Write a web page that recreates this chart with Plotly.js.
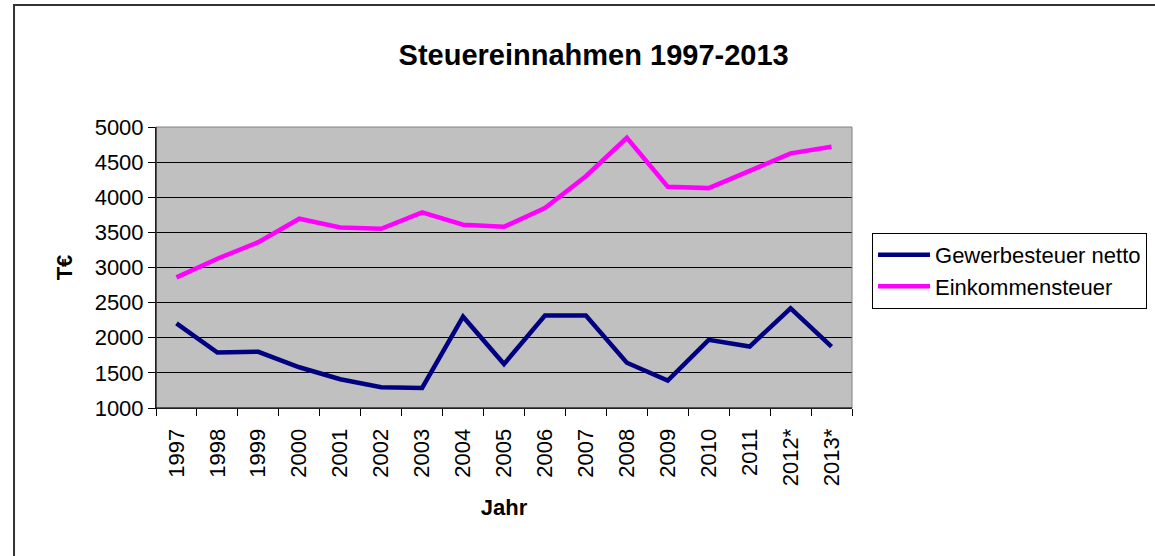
<!DOCTYPE html>
<html>
<head>
<meta charset="utf-8">
<script src="https://cdn.plot.ly/plotly-3.0.1.min.js"></script>
<style>
html,body{margin:0;padding:0;background:#fff;}
#chart{width:1155px;height:556px;}
</style>
</head>
<body>
<div id="chart"></div>
<script>
const years = ["1997","1998","1999","2000","2001","2002","2003","2004","2005","2006","2007","2008","2009","2010","2011","2012*","2013*"];
const gewerbesteuer = [2205,1790,1800,1580,1410,1295,1285,2300,1625,2315,2315,1645,1390,1970,1875,2420,1875];
const einkommensteuer = [2860,3125,3360,3695,3570,3550,3785,3610,3580,3845,4300,4845,4150,4130,4375,4625,4720];
const seriesNames = ["Gewerbesteuer netto","Einkommensteuer"];
const yTicks = [1000,1500,2000,2500,3000,3500,4000,4500,5000];

const FONT = "Liberation Sans, Arial, sans-serif";

const traces = [
  {x: years, y: gewerbesteuer, name: seriesNames[0], type: "scatter", mode: "lines",
   line: {color: "#000080", width: 4.5}},
  {x: years, y: einkommensteuer, name: seriesNames[1], type: "scatter", mode: "lines",
   line: {color: "#FF00FF", width: 4.5}}
];

const layout = {
  width: 1155, height: 556,
  margin: {l: 156, r: 303, t: 127, b: 148, pad: 0, autoexpand: false},
  paper_bgcolor: "#ffffff",
  plot_bgcolor: "#C0C0C0",
  font: {family: FONT, size: 22, color: "#000"},
  title: {text: "<b>Steuereinnahmen 1997-2013</b>", font: {family: FONT, size: 29, color: "#000"},
          x: 0.514, xref: "container", xanchor: "center", y: 0.902, yref: "container", yanchor: "middle"},
  showlegend: true,
  legend: {xref: "container", yref: "container", x: 0.755, xanchor: "left", y: 0.581, yanchor: "top", itemwidth: 52,
           bgcolor: "#ffffff", bordercolor: "#000", borderwidth: 1,
           font: {family: FONT, size: 22, color: "#000"}, tracegroupgap: 0},
  xaxis: {
    type: "category", range: [-0.5, 16.5], tickson: "boundaries", ticks: "outside", ticklen: 7, tickcolor: "#000",
    tickangle: -90, ticklabelstandoff: 11, showline: true, linecolor: "#000", linewidth: 1, mirror: false,
    showgrid: false, zeroline: false, automargin: false,
    tickfont: {family: FONT, size: 22, color: "#000"},
    title: {text: "<b>Jahr</b>", font: {family: FONT, size: 22, color: "#000"}, standoff: 14}
  },
  yaxis: {
    range: [1000, 5000], tickvals: yTicks, ticktext: yTicks.map(String),
    ticks: "outside", ticklen: 7, tickcolor: "#000",
    showline: true, linecolor: "#000", linewidth: 1,
    showgrid: true, gridcolor: "#000", gridwidth: 1, zeroline: false, automargin: false,
    tickfont: {family: FONT, size: 22, color: "#000"},
    title: {text: "<b>T€</b>", font: {family: FONT, size: 22, color: "#000"}, standoff: 15}
  },
  shapes: [
    {type: "rect", xref: "paper", yref: "paper", x0: 0, x1: 1, y0: 0, y1: 1,
     line: {color: "#808080", width: 1}, fillcolor: "rgba(0,0,0,0)", layer: "above"},
    {type: "line", xref: "paper", yref: "paper", x0: 0, x1: 0, y0: 0, y1: 1,
     line: {color: "#000", width: 1}, layer: "above"},
    {type: "line", xref: "paper", yref: "paper", x0: 0, x1: 1, y0: 0, y1: 0,
     line: {color: "#000", width: 1}, layer: "above"},
    {type: "rect", xref: "paper", yref: "paper", x0: -0.204, x1: 1.6, y0: -1.0, y1: 1.434,
     line: {color: "#333", width: 2}, fillcolor: "rgba(0,0,0,0)", layer: "below"}
  ]
};

Plotly.newPlot("chart", traces, layout, {displayModeBar: false, staticPlot: true});
</script>
</body>
</html>
